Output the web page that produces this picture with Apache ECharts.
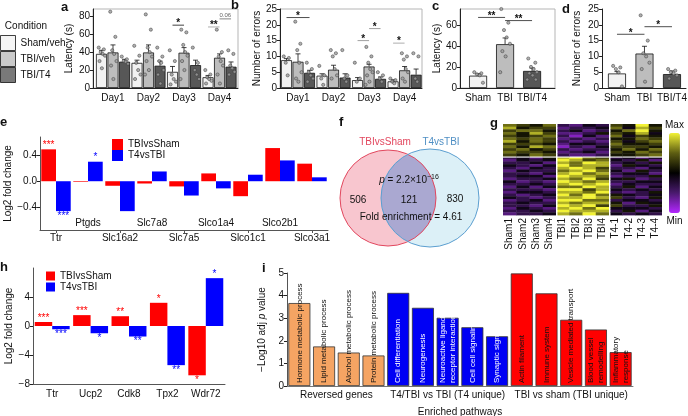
<!DOCTYPE html>
<html>
<head>
<meta charset="utf-8">
<script src="https://cdn.jsdelivr.net/npm/echarts@6/dist/echarts.min.js"></script>
<style>
  html, body { margin: 0; padding: 0; background: #fff; }
  #main { width: 688px; height: 416px; }
</style>
</head>
<body>
<div id="main"></div>
<script>
// ---- data ----
const condNames = ['Sham/veh', 'TBI/veh', 'TBI/T4'];
const days = ['Day1', 'Day2', 'Day3', 'Day4'];
const groupLabels = ['Sham', 'TBI', 'TBI/T4'];

// a: latency (s), [group][day]
const latMean = [[38, 28, 18, 12], [39.6, 39.6, 39.3, 33.7], [29.3, 24.8, 25.5, 23.7]];
const latTop = [[42, 31, 24, 14], [48, 48, 45, 38], [32, 30, 31, 29]];
const latDots = [
  [[45, 43, 40, 38, 36, 30, 22], [47, 36, 28, 20, 15, 10], [42, 30, 15, 10, 7, 4], [20, 15, 12, 10, 8, 5]],
  [[85, 57, 42, 38, 30, 25, 10], [82, 65, 45, 40, 35, 30, 20, 15], [65, 62, 48, 40, 36, 30, 20, 10], [65, 40, 35, 30, 25, 15, 5]],
  [[35, 32, 30, 29, 27], [45, 35, 30, 28, 20, 15, 5], [45, 28, 20, 15, 10], [42, 38, 25, 22, 18, 15]]
];
const latSig = [[2, 0, 1, 70], [3, 0, 1, 68], [3, 1, 2, 77]];
const latSigText = ['*', '**', '0.06'];

// b: number of errors, [group][day]
const errMean = [[8.8, 3.9, 2.5, 2.1], [8.3, 5.8, 6.8, 5.6], [4.8, 3.3, 2.9, 4.2]];
const errTop = [[9.3, 4.5, 3.3, 2.6], [10.8, 7.2, 7.5, 6.8], [5.6, 4.5, 3.5, 6.0]];
const errDots = [
  [[10, 9.5, 8, 4], [7, 4, 3, 1], [8, 3, 2], [3, 2.5, 2, 1.5]],
  [[21, 14, 12, 8, 5, 3, 2], [12, 11, 10, 6, 4, 3], [13, 10, 8, 6, 5, 4, 2, 1], [11, 10, 9, 6, 5, 3, 2]],
  [[8, 6, 5, 4, 3, 2], [12, 4, 3, 2], [5, 4, 3, 2], [11, 10, 3, 2]]
];
const errSig = [[0, 0, 2, 22.3], [2, 0, 1, 15], [2, 1, 2, 18.8], [3, 0, 1, 14.2]];
const errSigText = ['*', '*', '*', '*'];

// c: probe latency, d: probe errors
const latC = [11.7, 41.6, 16.2];
const latCTop = [13.5, 47.5, 19];
const latCDots = [[15, 14, 13, 12, 5], [75, 62, 55, 48, 42, 35, 30, 15], [28, 24, 20, 18, 15, 14, 12, 8, 8]];
const latCSig = [[0, 1, 67], [1, 2, 64]];
const latCSigText = ['**', '**'];
const errD = [4.6, 10.9, 4.4];
const errDTop = [5.2, 13.2, 5.4];
const errDDots = [[7, 6.5, 6, 5, 0.5], [23, 15, 11, 10, 8, 6, 2], [6, 5.5, 5, 4.5, 4, 3]];
const errDSig = [[0, 1, 17], [1, 2, 19.4]];
const errDSigText = ['*', '*'];

// e: transporter genes
const genesE = ['Ttr', 'Ptgds', 'Slc16a2', 'Slc7a8', 'Slc7a5', 'Slco1a4', 'Slco1c1', 'Slco2b1', 'Slco3a1'];
const eSham = [0.49, -0.01, -0.07, -0.035, -0.08, 0.12, -0.23, 0.51, 0.27];
const eT4 = [-0.46, 0.30, -0.46, 0.15, -0.22, -0.11, 0.10, 0.32, 0.06];
const eShamStars = ['***', '', '', '', '', '', '', '', ''];
const eT4Stars = ['***', '*', '', '', '', '', '', '', ''];

// f: venn
const vennCounts = [506, 121, 830];

// g: heatmap, digits 0 (min) .. 9 (max); columns Sham1-4 | TBI1-4 | T4-1..4
const samples = ['Sham1', 'Sham2', 'Sham3', 'Sham4', 'TBI1', 'TBI2', 'TBI3', 'TBI4', 'T4-1', 'T4-2', 'T4-3', 'T4-4'];
const heatTop = [
  '7657 3243 6595', '8566 2334 7486', '6775 3423 5795', '7586 2235 6584',
  '6567 3142 7465', '7676 2323 5576', '8576 3232 6467', '6665 2443 7556',
  '7587 1324 6665', '6756 3233 5757', '7665 2342 6576', '6576 3223 5567'
];
const heatBottom = [
  '3425 8976 3424', '2434 9867 4352', '3342 8798 3435', '4324 9788 2543',
  '3243 8986 3324', '2433 7897 4253', '3324 8978 3442', '3442 9887 2335',
  '2334 8796 4523', '4232 9878 3344', '3343 8989 2433', '2424 7798 3524',
  '3332 9968 4343', '2443 8879 3235', '3234 9797 5434', '4323 8898 6325',
  '2342 9977 3443', '3433 8788 5254', '3324 9896 6335', '2432 8979 4443',
  '3343 9888 3524', '2334 8797 4343'
];

// h: validated genes
const genesH = ['Ttr', 'Ucp2', 'Cdk8', 'Tpx2', 'Wdr72'];
const hSham = [0.55, 1.5, 1.35, 3.2, -6.8];
const hT4 = [-0.45, -1.0, -1.45, -5.4, 6.6];
const hShamStars = ['***', '***', '**', '*', '*'];
const hT4Stars = ['***', '*', '**', '**', '*'];

// i: enriched pathways
const pathways = ['Hormone metabolic process', 'Lipid metabolic process', 'Alcohol metabolic process',
  'Protein metabolic process', 'Cell differentiation', 'Neurogenesis',
  'Neuroactive ligand\nreceptor interaction', 'Cell cell signaling', 'Synaptic signaling',
  'Actin filament', 'Immune system', 'Vesicle mediated transport', 'Blood vessel\nremodelling',
  'Inflammatory\nresponse'];
const pathValues = [3.67, 1.75, 1.48, 1.35, 4.12, 3.46, 3.02, 2.6, 2.2, 4.98, 4.1, 2.93, 2.5, 1.5];
const pathGroup = [0, 0, 0, 0, 1, 1, 1, 1, 1, 2, 2, 2, 2, 2];
const pathGroupNames = ['Reversed genes', 'T4/TBI vs TBI (T4 unique)', 'TBI vs sham (TBI unique)'];

// ---- styles ----
const FONT = 'Liberation Sans, Arial, sans-serif';
const INK = '#111';
const condColors = ['#f2f2f2', '#bdbdbd', '#575757'];
const pathColors = ['#f5a463', '#0000f5', '#ff0000'];
const pathTextColors = ['#111', '#fff', '#111'];
const jitter = [-0.7, 0.6, -0.2, 0.3, 0.9, -0.5, 0.1, -0.9, 0.7, -0.1];

const chart = echarts.init(document.getElementById('main'));

const grids = [
  { left: 93, top: 9, width: 145, height: 79, show: true, borderColor: '#b5b5b5', borderWidth: 1 },   // a
  { left: 280, top: 9, width: 142, height: 79, show: true, borderColor: '#b5b5b5', borderWidth: 1 },  // b
  { left: 460, top: 9, width: 95, height: 79, show: true, borderColor: '#b5b5b5', borderWidth: 1 },   // c
  { left: 602, top: 9, width: 84, height: 79 },                                                      // d
  { left: 40, top: 137, width: 288, height: 93 },                                                    // e
  { left: 503, top: 124, width: 159, height: 91 },                                                   // g
  { left: 33, top: 268, width: 192, height: 116 },                                                   // h
  { left: 287, top: 273, width: 346, height: 113 }                                                   // i
].map(g => Object.assign({ outerBoundsMode: 'none', containLabel: false }, g));

function valueX(gridIndex, min, max, labels) {
  return {
    type: 'value', gridIndex, min, max, position: 'bottom',
    axisLine: { onZero: false, lineStyle: { color: '#222', width: 1 } },
    axisTick: { show: false }, splitLine: { show: false },
    axisLabel: {
      customValues: labels.map((_, i) => i), formatter: v => labels[Math.round(v)],
      fontSize: 10, color: INK, margin: 5, fontFamily: FONT
    }
  };
}
function valueY(gridIndex, min, max, ticks, name, nameGap, fmt) {
  return {
    type: 'value', gridIndex, min, max, name, nameLocation: 'middle', nameGap,
    nameTextStyle: { fontSize: 10, color: INK, fontFamily: FONT, rich: { it: { fontStyle: 'italic', fontSize: 10, fontFamily: FONT } } },
    axisLine: { show: true, onZero: false, lineStyle: { color: '#222' } },
    axisTick: { show: true, length: 3, customValues: ticks, lineStyle: { color: '#222' } },
    axisLabel: { customValues: ticks, fontSize: 10, color: INK, margin: 3, fontFamily: FONT, formatter: fmt },
    splitLine: { show: false }
  };
}

const xAxes = [
  valueX(0, -0.563, 3.52, days),
  valueX(1, -0.507, 3.49, days),
  valueX(2, -0.67, 2.85, groupLabels),
  valueX(3, -0.545, 2.51, groupLabels),
  {
    type: 'category', gridIndex: 4, data: genesE, position: 'bottom',
    axisLine: { onZero: false, lineStyle: { color: '#555' } },
    axisTick: { show: true, length: 3, alignWithLabel: true, interval: i => i % 2 === 0, lineStyle: { color: '#555' } },
    axisLabel: { interval: i => i % 2 === 0, fontSize: 10, color: INK, margin: 3, fontFamily: FONT }
  },
  {
    type: 'category', gridIndex: 4, data: genesE, position: 'bottom', offset: -15,
    axisLine: { show: false }, axisTick: { show: false },
    axisLabel: { interval: i => i % 2 === 1, fontSize: 10, color: INK, margin: 3, fontFamily: FONT }
  },
  {
    type: 'value', gridIndex: 5, min: 0, max: 12, position: 'bottom',
    axisLine: { show: false }, axisTick: { show: false }, splitLine: { show: false },
    axisLabel: {
      customValues: samples.map((_, i) => i + 0.5), formatter: v => samples[Math.floor(v)],
      rotate: 90, fontSize: 10, color: INK, margin: 3, fontFamily: FONT
    }
  },
  {
    type: 'category', gridIndex: 6, data: genesH, position: 'bottom',
    axisLine: { onZero: false, lineStyle: { color: '#555' } },
    axisTick: { show: false },
    axisLabel: { fontSize: 10, color: INK, margin: 5, fontFamily: FONT }
  },
  {
    type: 'category', gridIndex: 7, data: pathways, position: 'bottom',
    axisLine: { onZero: false, lineStyle: { color: '#777' } },
    axisTick: { show: false }, axisLabel: { show: false }
  },
  {
    type: 'value', gridIndex: 7, min: 0, max: 14, position: 'bottom',
    name: 'Enriched pathways', nameLocation: 'middle', nameGap: 21,
    nameTextStyle: { fontSize: 10, color: INK, fontFamily: FONT },
    axisLine: { show: false }, axisTick: { show: false }, splitLine: { show: false },
    axisLabel: {
      customValues: [2, 6.5, 11.5], formatter: v => pathGroupNames[[2, 6.5, 11.5].indexOf(v)],
      fontSize: 10, color: INK, margin: 4, fontFamily: FONT
    }
  }
];

const minus = v => String(v).replace('-', '\u2212');
const yAxes = [
  valueY(0, 0, 88, [0, 20, 40, 60, 80], 'Latency (s)', 19),
  valueY(1, 0, 25, [0, 5, 10, 15, 20, 25], 'Number of errors', 17),
  valueY(2, 0, 75, [0, 20, 40, 60], 'Latency (s)', 18),
  valueY(3, 0, 25, [0, 5, 10, 15, 20, 25], 'Number of errors', 20),
  Object.assign(valueY(4, -0.75, 0.68, [-0.4, 0, 0.4], 'Log2 fold change', 25, v => minus(v.toFixed(1))),
    { axisLine: { show: true, onZero: false, lineStyle: { color: '#555' } } }),
  { type: 'value', gridIndex: 5, min: 0, max: heatTop.length + heatBottom.length, inverse: true, show: false },
  Object.assign(valueY(6, -8, 8, [-8, -4, 0, 4], 'Log2 fold change', 18, v => minus(v)),
    { axisLine: { show: true, onZero: false, lineStyle: { color: '#555' } } }),
  valueY(7, 0, 5, [0, 1, 2, 3, 4, 5], '\u2212Log10 adj {it|p} value', 14)
];
yAxes[7].axisLine.lineStyle.color = '#555';

// ---- series ----
const series = [];
condNames.forEach((n, g) => series.push({
  type: 'scatter', name: n, xAxisIndex: 0, yAxisIndex: 0, data: [],
  itemStyle: { color: condColors[g], borderColor: '#111', borderWidth: 1 }
}));

function errItem(params, api) {
  const x = api.value(0);
  const p0 = api.coord([x, api.value(1)]);
  const p1 = api.coord([x, api.value(2)]);
  const st = { stroke: '#111', lineWidth: 0.8 };
  return {
    type: 'group', children: [
      { type: 'line', shape: { x1: p0[0], y1: p0[1], x2: p1[0], y2: p1[1] }, style: st },
      { type: 'line', shape: { x1: p1[0] - 2.5, y1: p1[1], x2: p1[0] + 2.5, y2: p1[1] }, style: st }
    ]
  };
}
function sigItem(texts, colors) {
  return function (params, api) {
    const a = api.coord([api.value(0), api.value(2)]);
    const b = api.coord([api.value(1), api.value(2)]);
    const t = texts[params.dataIndex];
    const small = t.indexOf('*') < 0;
    return {
      type: 'group', children: [
        { type: 'line', shape: { x1: a[0], y1: a[1], x2: b[0], y2: b[1] }, style: { stroke: colors[params.dataIndex], lineWidth: 0.8 } },
        {
          type: 'text', x: (a[0] + b[0]) / 2, y: small ? a[1] - 1 : a[1] + 3.5,
          style: { text: t, fill: small ? '#666' : '#111', font: (small ? '6px ' : 'bold 10px ') + FONT, align: 'center', verticalAlign: 'bottom' }
        }
      ]
    };
  };
}

function addPanel(ax, means, tops, dots, offs, barW, jit, sig, sigText, sigColors) {
  const bars = [], errs = [], pts = [];
  means.forEach((row, g) => row.forEach((m, k) => {
    const x = k + offs[g];
    bars.push({ value: [x, m], itemStyle: { color: condColors[g] } });
    errs.push([x, m, tops[g][k]]);
    dots[g][k].forEach((v, j) => pts.push([x + jit * jitter[j % jitter.length], v]));
  }));
  series.push({
    type: 'bar', xAxisIndex: ax, yAxisIndex: ax, barWidth: barW, data: bars, silent: true,
    itemStyle: { borderColor: '#111', borderWidth: 0.8 }
  });
  series.push({ type: 'custom', xAxisIndex: ax, yAxisIndex: ax, renderItem: errItem, data: errs, encode: { x: 0, y: [1, 2] }, silent: true, z: 3 });
  series.push({
    type: 'scatter', xAxisIndex: ax, yAxisIndex: ax, data: pts, symbolSize: 3.2, silent: true, z: 4,
    itemStyle: { color: '#9c9c9c', borderColor: '#333', borderWidth: 0.6 }
  });
  series.push({
    type: 'custom', xAxisIndex: ax, yAxisIndex: ax, renderItem: sigItem(sigText, sigColors),
    data: sig.map(s => s.length === 4 ? [s[0] + offs[s[1]], s[0] + offs[s[2]], s[3]] : [s[0], s[1], s[2]]),
    encode: { x: [0, 1], y: 2 }, silent: true, z: 5
  });
}

const offAB = [-0.324, 0, 0.324];
addPanel(0, latMean, latTop, latDots, offAB, 11, 0.11, latSig, latSigText, ['#111', '#999', '#666']);
addPanel(1, errMean, errTop, errDots, offAB, 11, 0.11, errSig, errSigText, ['#222', '#888', '#888', '#999']);
addPanel(2, latC.map(v => [v]), latCTop.map(v => [v]), latCDots.map(d => [d]), [0, 1, 2], 18, 0.2, latCSig, latCSigText, ['#222', '#222']);
addPanel(3, errD.map(v => [v]), errDTop.map(v => [v]), errDDots.map(d => [d]), [0, 1, 2], 18, 0.2, errDSig, errDSigText, ['#222', '#222']);

function starBars(values, stars, color) {
  return values.map((v, i) => ({
    value: v,
    label: stars[i] ? {
      show: true, formatter: stars[i], position: v >= 0 ? 'top' : 'bottom', distance: v >= 0 ? -1 : 0,
      color, fontSize: 10, fontFamily: FONT
    } : { show: false }
  }));
}
const barCommon = { type: 'bar', barGap: '0%', silent: true };
series.push(Object.assign({ name: 'TBIvsSham', xAxisIndex: 4, yAxisIndex: 4, data: starBars(eSham, eShamStars, '#ff0000'), itemStyle: { color: '#ff0000' }, barCategoryGap: '8%' }, barCommon));
series.push(Object.assign({ name: 'T4vsTBI', xAxisIndex: 4, yAxisIndex: 4, data: starBars(eT4, eT4Stars, '#0000ff'), itemStyle: { color: '#0000ff' }, barCategoryGap: '8%' }, barCommon));

// heatmap
const heatRows = heatTop.concat(heatBottom).map(r => r.replace(/ /g, '').split('').map(Number));
const heatData = [];
heatRows.forEach((row, r) => row.forEach((v, c) => heatData.push([c, r, v])));
function heatItem(params, api) {
  const c = api.value(0), r = api.value(1);
  const p0 = api.coord([c, r]);
  const p1 = api.coord([c + 1, r + 1]);
  let x0 = p0[0], y0 = p0[1];
  if (c === 4 || c === 8) x0 += 1.5;
  if (r === heatTop.length) y0 += 1.5;
  return {
    type: 'rect',
    shape: { x: x0, y: y0, width: p1[0] - x0 + (c === 3 || c === 7 || c === 11 ? 0 : 0.4), height: p1[1] - y0 + 0.4 },
    style: { fill: api.visual('color') }
  };
}
const heatIndex = series.length;
series.push({ type: 'custom', xAxisIndex: 6, yAxisIndex: 5, renderItem: heatItem, data: heatData, encode: { x: 0, y: 1 }, silent: true });

series.push(Object.assign({ name: 'TBIvsSham', xAxisIndex: 7, yAxisIndex: 6, data: starBars(hSham, hShamStars, '#ff0000'), itemStyle: { color: '#ff0000' }, barCategoryGap: '9%' }, barCommon));
series.push(Object.assign({ name: 'T4vsTBI', xAxisIndex: 7, yAxisIndex: 6, data: starBars(hT4, hT4Stars, '#0000ff'), itemStyle: { color: '#0000ff' }, barCategoryGap: '9%' }, barCommon));

series.push({
  type: 'bar', xAxisIndex: 8, yAxisIndex: 7, barWidth: 22, silent: true,
  data: pathValues.map((v, i) => ({
    value: v, itemStyle: { color: pathColors[pathGroup[i]] },
    label: { color: pathTextColors[pathGroup[i]] }
  })),
  itemStyle: { borderColor: '#333', borderWidth: 0.8 },
  label: {
    show: true, position: 'insideBottom', rotate: 90, align: 'left', verticalAlign: 'middle',
    distance: 3, fontSize: 8, lineHeight: 10, fontFamily: FONT, formatter: '{b}'
  }
});

// ---- venn geometry (f) ----
const vc1 = [388, 198], vr1 = 48, vc2 = [430, 198], vr2 = 49;
const vd = vc2[0] - vc1[0];
const va = (vd * vd + vr1 * vr1 - vr2 * vr2) / (2 * vd);
const vh = Math.sqrt(vr1 * vr1 - va * va);
const lens = [];
const t1 = Math.atan2(vh, va), t2 = Math.atan2(vh, va - vd);
for (let k = 0; k <= 30; k++) {           // arc of circle 1, right side
  const t = -t1 + 2 * t1 * k / 30;
  lens.push([vc1[0] + vr1 * Math.cos(t), vc1[1] + vr1 * Math.sin(t)]);
}
for (let k = 0; k <= 30; k++) {           // arc of circle 2, left side
  const t = t2 + (2 * Math.PI - 2 * t2) * k / 30;
  lens.push([vc2[0] + vr2 * Math.cos(t), vc2[1] + vr2 * Math.sin(t)]);
}

function txt(x, y, text, opts) {
  return {
    type: 'text', x, y, silent: true,
    style: Object.assign({ text, fill: INK, font: '10px ' + FONT, align: 'center', verticalAlign: 'middle' }, opts || {})
  };
}
const letter = (x, y, s) => txt(x, y, s, { font: 'bold 13px ' + FONT, align: 'left', verticalAlign: 'top' });

const graphic = [
  letter(61, 1, 'a'), letter(231, -1, 'b'), letter(432, 0, 'c'), letter(562, 3, 'd'),
  letter(0, 116, 'e'), letter(339, 116, 'f'), letter(490, 117, 'g'), letter(0, 261, 'h'), letter(262, 262, 'i'),
  txt(26, 26, 'Condition'),
  { type: 'circle', silent: true, shape: { cx: vc1[0], cy: vc1[1], r: vr1 }, style: { fill: '#f8c6cf', stroke: null } },
  { type: 'circle', silent: true, shape: { cx: vc2[0], cy: vc2[1], r: vr2 }, style: { fill: '#dcf0f7', stroke: null } },
  { type: 'polygon', silent: true, shape: { points: lens }, style: { fill: '#aaa8d1', stroke: null } },
  { type: 'circle', silent: true, shape: { cx: vc1[0], cy: vc1[1], r: vr1 }, style: { fill: null, stroke: '#e2475e', lineWidth: 1 } },
  { type: 'circle', silent: true, shape: { cx: vc2[0], cy: vc2[1], r: vr2 }, style: { fill: null, stroke: '#5c9fd0', lineWidth: 1 } },
  txt(385, 142, 'TBIvsSham', { fill: '#e2475e' }),
  txt(441, 142, 'T4vsTBI', { fill: '#4f8fc4' }),
  txt(358, 200, String(vennCounts[0])),
  txt(409, 200, String(vennCounts[1])),
  txt(455, 199, String(vennCounts[2])),
  {
    type: 'text', x: 409, y: 180, silent: true,
    style: {
      text: '{it|p} = 2.2×10{sup|\u221216}', align: 'center', verticalAlign: 'middle', fill: INK,
      font: '10px ' + FONT,
      rich: { it: { fontStyle: 'italic', fontSize: 10, fontFamily: FONT }, sup: { fontSize: 7, fontFamily: FONT, padding: [0, 0, 6, 0] } }
    }
  },
  txt(411, 217, 'Fold enrichment = 4.61')
];

const legendText = { fontSize: 10, color: INK, fontFamily: FONT };
const option = {
  backgroundColor: '#fff',
  animation: false,
  textStyle: { fontFamily: FONT },
  grid: grids,
  xAxis: xAxes,
  yAxis: yAxes,
  legend: [
    {
      left: 0, top: 35, orient: 'vertical', itemWidth: 15, itemHeight: 15, itemGap: 0, padding: 0,
      icon: 'rect', textStyle: legendText, selectedMode: false,
      data: condNames.map((n, g) => ({ name: n, itemStyle: { color: condColors[g], borderColor: '#111', borderWidth: 1 } }))
    },
    {
      left: 112, top: 139, orient: 'vertical', itemWidth: 11, itemHeight: 11, itemGap: 0, padding: 0,
      icon: 'rect', textStyle: legendText, selectedMode: false, data: ['TBIvsSham', 'T4vsTBI']
    },
    {
      left: 46, top: 271, orient: 'vertical', itemWidth: 9, itemHeight: 9, itemGap: 1, padding: 0,
      icon: 'rect', textStyle: legendText, selectedMode: false, data: ['TBIvsSham', 'T4vsTBI']
    }
  ],
  visualMap: {
    type: 'continuous', seriesIndex: heatIndex, dimension: 2, min: 0, max: 9,
    calculable: false, orient: 'vertical', left: 665, top: 120, itemWidth: 11, itemHeight: 80,
    text: ['Max', 'Min'], textGap: 3, padding: 0,
    textStyle: { fontSize: 10, color: INK, fontFamily: FONT },
    inRange: { color: ['#b326ff', '#4a1a6e', '#000000', '#5e5e12', '#f2f236'] }
  },
  series,
  graphic
};
chart.setOption(option);
</script>
</body>
</html>
